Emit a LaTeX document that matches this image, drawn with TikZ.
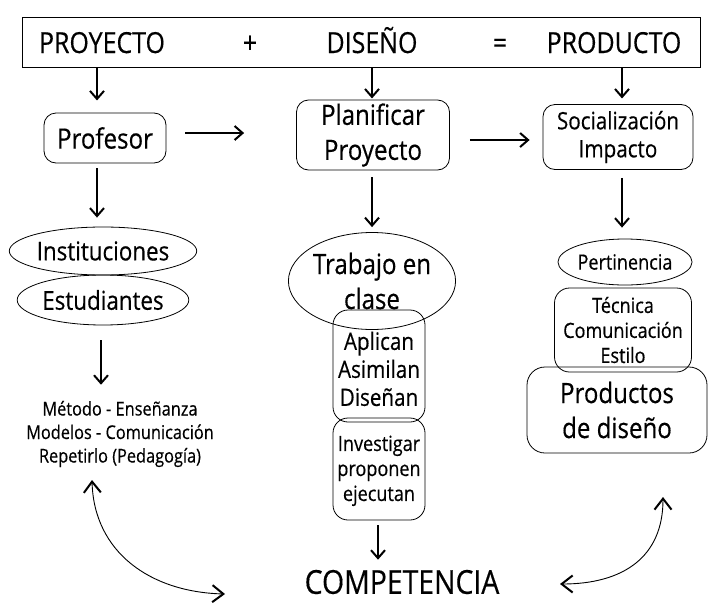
\documentclass[tikz,border=0pt]{standalone}
\usepackage{fontspec}
\setmainfont{Open Sans}[FakeStretch=0.86,FakeBold=0.4]
\usetikzlibrary{arrows.meta,shapes.geometric,calc}
\begin{document}
\begin{tikzpicture}[x=1pt,y=-1pt,
  rbox/.style={draw,line width=0.8pt,rounded corners=12pt,inner sep=0pt,align=center},
  ebox/.style={draw,ellipse,line width=0.8pt,inner sep=0pt,align=center},
  txt/.style={inner sep=0pt,align=center},
  toptxt/.style={inner sep=0pt,anchor=base,font=\fontsize{29}{34}\selectfont},
  arr/.style={line width=2.1pt,-{Straight Barb[length=8pt,width=14pt,line width=2pt]}},
  carr/.style={line width=0.9pt,{Straight Barb[length=11pt,width=17pt,line width=2pt]}-{Straight Barb[length=11pt,width=17pt,line width=2pt]}},
  f28/.style={font=\fontsize{28}{35}\selectfont},
  f26/.style={font=\fontsize{26}{31}\selectfont},
  f24/.style={font=\fontsize{24}{28}\selectfont},
  f21/.style={font=\fontsize{21}{25}\selectfont},
  f19/.style={font=\fontsize{19}{23.5}\selectfont}]
\useasboundingbox (0,0) rectangle (708,605);
\fill[white] (0,0) rectangle (708,605);
% top box
\node[draw,line width=0.9pt,minimum width=678pt,minimum height=50pt,inner sep=0pt] (top) at (361,42) {};
\node[toptxt] (t1) at (102,53) {PROYECTO};
\node[toptxt] (t2) at (250,53) {+};
\node[toptxt] (t3) at (372,53) {DISEÑO};
\node[toptxt] (t4) at (500,53) {=};
\node[toptxt] (t5) at (614,53) {PRODUCTO};
% first row
\node[rbox,f28,minimum width=122pt,minimum height=50pt] (prof) at (105,138) {Profesor};
\node[rbox,f28,minimum width=153pt,minimum height=70pt] (plan) at (373,135) {Planificar\\Proyecto};
\node[rbox,f24,minimum width=150pt,minimum height=65pt] (soc) at (618,137) {Socialización\\Impacto};
% left column
\node[ebox,f26,minimum width=160pt,minimum height=48pt] (inst) at (103,251) {Instituciones};
\node[ebox,f26,minimum width=160pt,minimum height=50pt] (est) at (103,300) {Estudiantes};
\node[txt,f19] (met) at (120,434) {Método - Enseñanza\\Modelos - Comunicación\\Repetirlo (Pedagogía)};
% middle column
\node[rbox,f24,rounded corners=15pt,minimum width=92pt,minimum height=112pt] (apl) at (379,366) {\\[-4pt]Aplican\\Asimilan\\Diseñan};
\node[rbox,f21,rounded corners=15pt,minimum width=92pt,minimum height=102pt] (inv) at (379,469) {\\[-6pt]Investigar\\proponen\\ejecutan};
\node[ebox,f28,minimum width=145pt,minimum height=97pt] (trab) at (372,281) {Trabajo en\\clase};
\node[txt,font=\fontsize{33}{38}\selectfont] (comp) at (402,582) {COMPETENCIA};
% right column
\node[ebox,f21,minimum width=115pt,minimum height=46pt] (pert) at (625,262) {Pertinencia};
\node[rbox,f21,rounded corners=15pt,minimum width=137pt,minimum height=84pt] (tec) at (623,330) {Técnica\\Comunicación\\Estilo};
\node[rbox,f28,rounded corners=18pt,minimum width=180pt,minimum height=86pt] (prod) at (617,410) {Productos\\de diseño};
% arrows
\draw[arr] (top.south -| 97,0) -- ++(0,33);
\draw[arr] (top.south -| 372,0) -- ++(0,31);
\draw[arr] (top.south -| 622,0) -- ++(0,31);
\draw[arr] ($(prof.east)+(19,-5)$) -- ($(plan.west)+(-52,-2)$);
\draw[arr] ($(plan.east)+(20,5)$) -- ($(soc.west)+(-13,3)$);
\draw[arr] ($(prof.south)+(-8,5)$) -- ($(inst.north)+(-6,-9)$);
\draw[arr] ($(est.south)+(-2,15)$) -- ($(met.north)+(-19,-16)$);
\draw[arr] ($(plan.south)+(-1,7)$) -- ($(trab.north)+(0,-5)$);
\draw[arr] ($(soc.south)+(4,8)$) -- ($(pert.north)+(-3,-11)$);
\draw[arr] ($(inv.south)+(-1,5)$) -- ($(comp.north)+(-24,-10)$);
% curved arrows
\coordinate (la) at (92,480);
\coordinate (lb) at (225,594);
\coordinate (ra) at (663,497);
\coordinate (rb) at (560,584);
\draw[carr] (la) .. controls (94,552) and (150,592) .. (lb);
\draw[carr] (ra) .. controls (663,558) and (622,584) .. (rb);
\end{tikzpicture}
\end{document}
